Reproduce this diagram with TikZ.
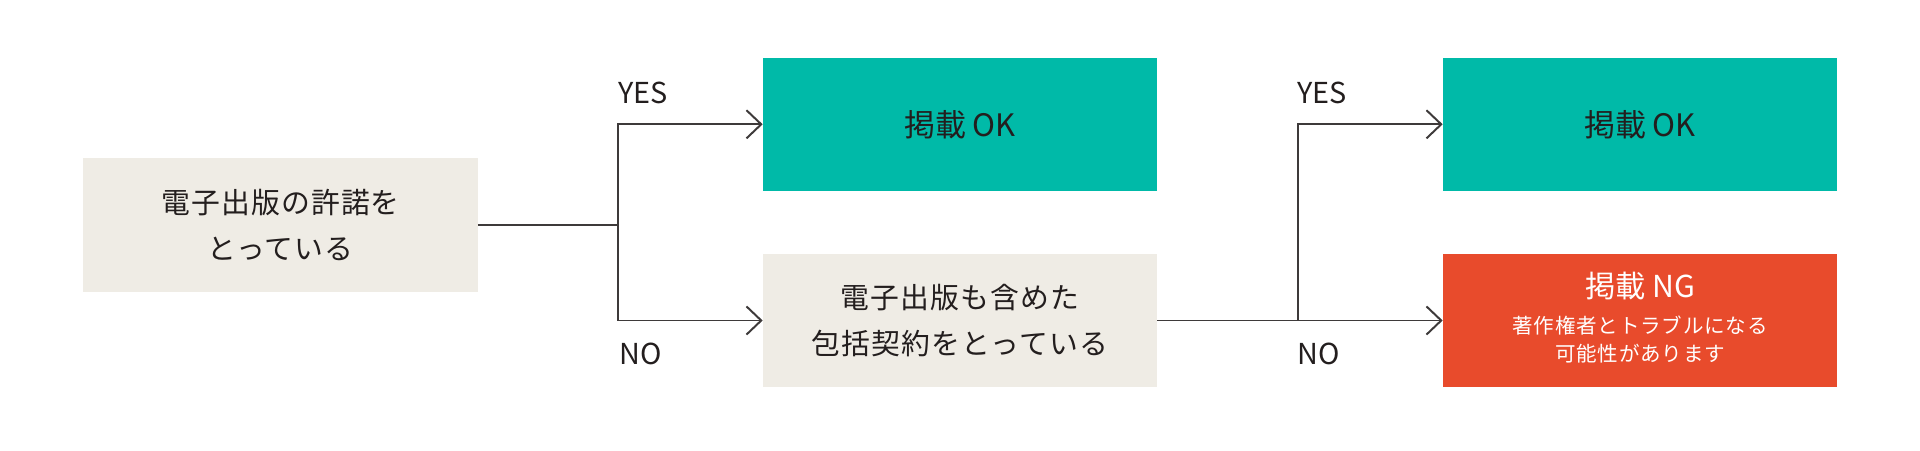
\documentclass[tikz,border=0pt]{standalone}
\usepackage{fontspec}
\setmainfont{Noto Sans CJK JP}
\newfontfamily\boxfont[LetterSpace=4]{Noto Sans CJK JP}
\usetikzlibrary{arrows.meta}

\definecolor{okgreen}{RGB}{0,186,168}
\definecolor{ngred}{RGB}{232,75,44}
\definecolor{askbeige}{RGB}{239,236,229}
\definecolor{linegrey}{RGB}{62,58,58}
\definecolor{textdark}{RGB}{35,30,30}

\begin{document}
\begin{tikzpicture}[x=0.025cm, y=-0.025cm,
    box/.style={minimum width=9.85cm, minimum height=3.325cm, inner sep=0pt, align=center, text=textdark},
    question/.style={box, fill=askbeige, font=\boxfont\fontsize{20.5}{32.6}\selectfont},
    okbox/.style={box, fill=okgreen, font=\fontsize{22}{26}\selectfont},
    ngbox/.style={box, fill=ngred},
    ngtitle/.style={inner sep=0pt, text=white, font=\fontsize{21.5}{26}\selectfont},
    ngnote/.style={inner sep=0pt, align=center, text=white, font=\boxfont\fontsize{14.6}{19.8}\selectfont},
    answer/.style={anchor=west, inner sep=0pt, text=textdark, font=\fontsize{20.5}{24}\selectfont},
    link/.style={draw=linegrey, line width=1.4pt},
    flow/.style={link, -{Straight Barb[length=10.5pt, width=20pt]}}]

            \useasboundingbox (0,0) rectangle (1920,451);

            % Boxes
            \node[question] (ask) at (280.5,225) {電子出版の許諾を\\とっている};
            \node[okbox] (ok1) at (960,124.3) {掲載 OK};
            \node[question] (bundle) at (960,320.5) {電子出版も含めた\\包括契約をとっている};
            \node[okbox] (ok2) at (1640,124.3) {掲載 OK};
            \node[ngbox] (ng) at (1640,320.5) {};

            % Text in the NG box
            \node[ngtitle] (ngtext) at (1640,286) {掲載 NG};
            \node[ngnote] (ngsub) at (1640,339.5) {著作権者とトラブルになる\\可能性があります};

            % Connectors
            \coordinate (fork1) at (618,225);
            \coordinate (fork2) at (1298,320.5);
            \draw[link] (ask.east) -- (fork1);
            \draw[flow] (fork1) |- (ok1.west);
            \draw[flow] (fork1) |- (bundle.west);
            \draw[link] (bundle.east) -- (fork2);
            \draw[flow] (fork2) |- (ok2.west);
            \draw[flow] (fork2) -- (ng.west);

            % Answer labels
            \node[answer] (yes1) at (618,93) {YES};
            \node[answer] (no1) at (619,354) {NO};
            \node[answer] (yes2) at (1297,93) {YES};
            \node[answer] (no2) at (1297,354) {NO};
        \end{tikzpicture}
\end{document}
